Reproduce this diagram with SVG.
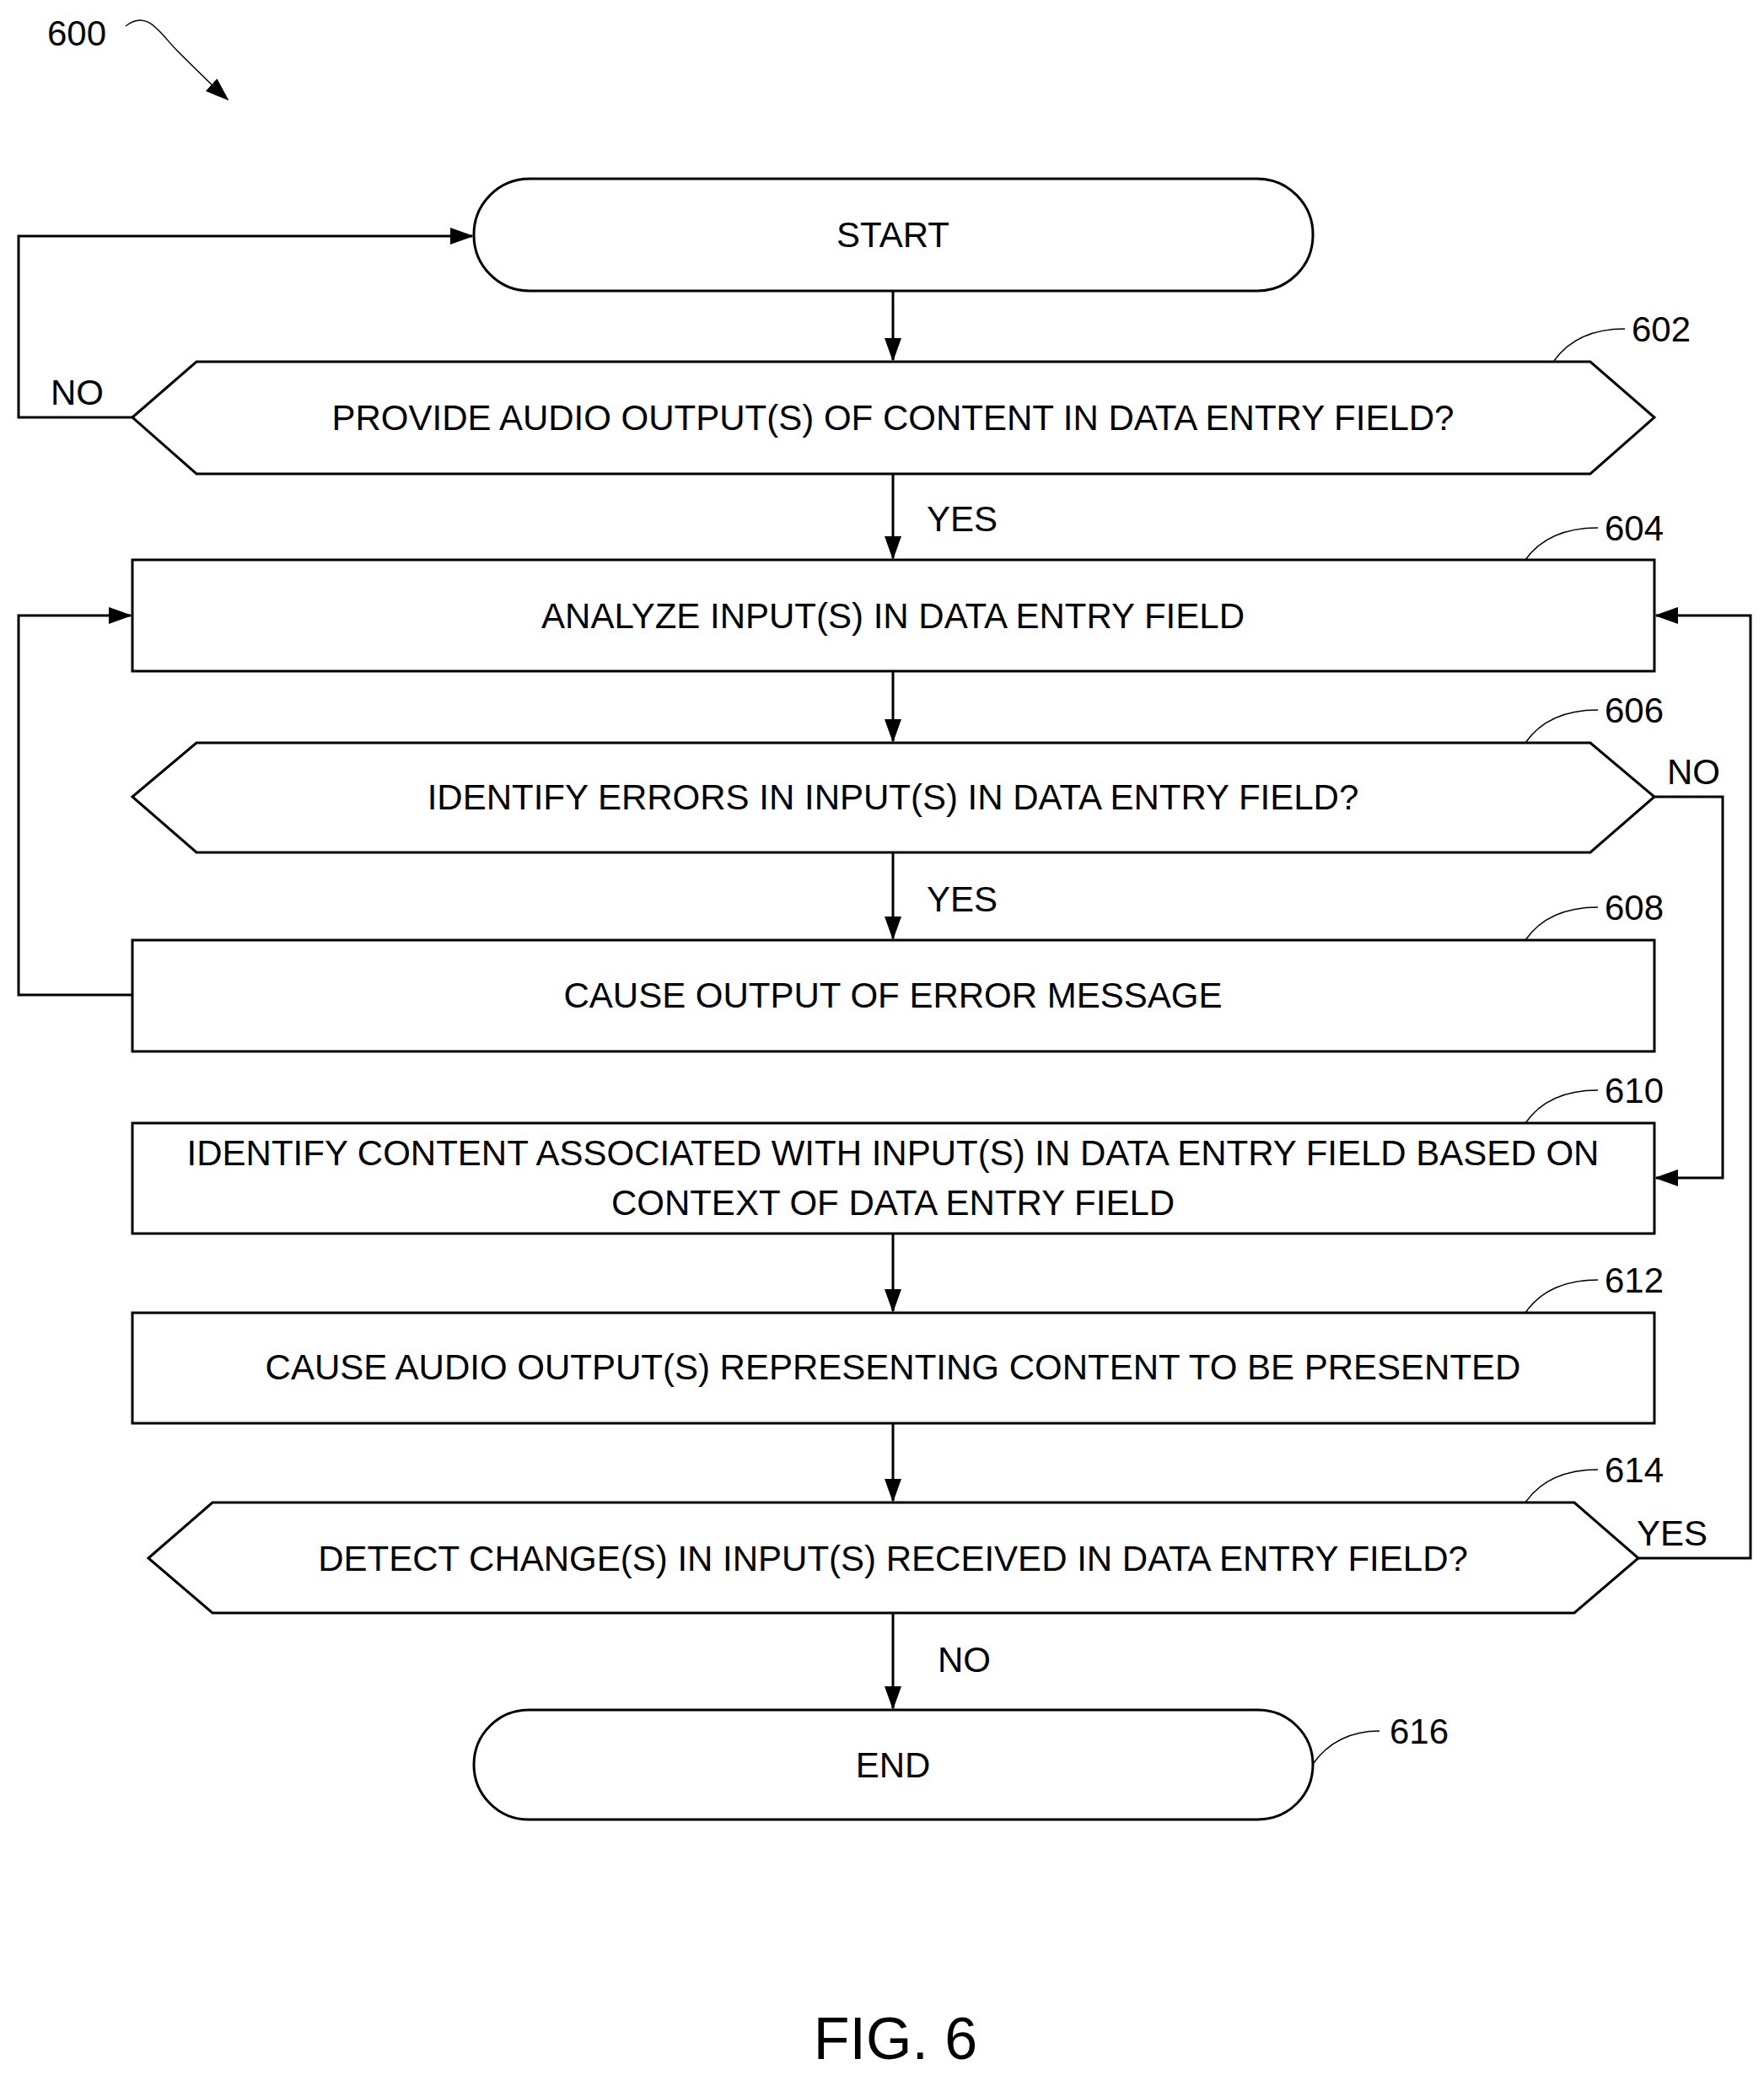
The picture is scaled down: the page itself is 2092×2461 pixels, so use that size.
<svg xmlns="http://www.w3.org/2000/svg" width="2092" height="2461" viewBox="0 0 2092 2461">
<style>
.s{fill:#fff;stroke:#000;stroke-width:3}
.t{font-family:"Liberation Sans",Arial,sans-serif;font-size:42px;text-anchor:middle;dominant-baseline:central}
.l{font-family:"Liberation Sans",Arial,sans-serif;font-size:42px;dominant-baseline:central}
.c{fill:none;stroke:#000;stroke-width:3}
.r{fill:none;stroke:#000;stroke-width:1.5}
</style>
<defs><marker id="a" markerWidth="28" markerHeight="24" refX="26" refY="12" orient="auto" markerUnits="userSpaceOnUse" viewBox="0 0 28 24"><path d="M0,2L28,12L0,22z"/></marker>
<marker id="b" markerWidth="28" markerHeight="28" refX="26" refY="14" orient="auto" markerUnits="userSpaceOnUse" viewBox="0 0 28 28"><path d="M0,4L28,14L0,24z"/></marker></defs>
<rect width="2092" height="2461" fill="#fff"/>
<text class="l" x="56" y="39">600</text>
<path class="r" d="M149,31 C175,10 190,40 210,60 S250,100 270,118" marker-end="url(#b)"/>
<g id="start"><rect class="s" x="562" y="212" width="995" height="133" rx="66"/><text class="t" x="1059" y="278">START</text></g>
<g id="n602"><polygon class="s" points="157,495 233,429 1886,429 1962,495 1886,562 233,562"/><text class="t" x="1059" y="495">PROVIDE AUDIO OUTPUT(S) OF CONTENT IN DATA ENTRY FIELD?</text><path class="r" d="M1843,428 Q1870,390 1927,390"/><text class="l" x="1935" y="390">602</text></g>
<g id="n604"><rect class="s" x="157" y="664" width="1805" height="132"/><text class="t" x="1059" y="730">ANALYZE INPUT(S) IN DATA ENTRY FIELD</text><path class="r" d="M1809,664 Q1836,626 1895,626"/><text class="l" x="1903" y="626">604</text></g>
<g id="n606"><polygon class="s" points="157,945 233,881 1886,881 1962,945 1886,1011 233,1011"/><text class="t" x="1059" y="945">IDENTIFY ERRORS IN INPUT(S) IN DATA ENTRY FIELD?</text><path class="r" d="M1809,881 Q1836,842 1895,842"/><text class="l" x="1903" y="842">606</text></g>
<g id="n608"><rect class="s" x="157" y="1115" width="1805" height="132"/><text class="t" x="1059" y="1180">CAUSE OUTPUT OF ERROR MESSAGE</text><path class="r" d="M1809,1115 Q1836,1076 1895,1076"/><text class="l" x="1903" y="1076">608</text></g>
<g id="n610"><rect class="s" x="157" y="1332" width="1805" height="131"/><text class="t" x="1059" y="1367">IDENTIFY CONTENT ASSOCIATED WITH INPUT(S) IN DATA ENTRY FIELD BASED ON</text><text class="t" x="1059" y="1426">CONTEXT OF DATA ENTRY FIELD</text><path class="r" d="M1809,1332 Q1836,1293 1895,1293"/><text class="l" x="1903" y="1293">610</text></g>
<g id="n612"><rect class="s" x="157" y="1557" width="1805" height="131"/><text class="t" x="1059" y="1621">CAUSE AUDIO OUTPUT(S) REPRESENTING CONTENT TO BE PRESENTED</text><path class="r" d="M1809,1557 Q1836,1518 1895,1518"/><text class="l" x="1903" y="1518">612</text></g>
<g id="n614"><polygon class="s" points="176,1848 252,1782 1867,1782 1943,1848 1867,1913 252,1913"/><text class="t" x="1059" y="1848">DETECT CHANGE(S) IN INPUT(S) RECEIVED IN DATA ENTRY FIELD?</text><path class="r" d="M1809,1782 Q1836,1743 1895,1743"/><text class="l" x="1903" y="1743">614</text></g>
<g id="end"><rect class="s" x="562" y="2028" width="995" height="130" rx="65"/><text class="t" x="1059" y="2093">END</text><path class="r" d="M1557,2092 Q1585,2053 1636,2053"/><text class="l" x="1648" y="2053">616</text></g>
<g id="connectors">
<path class="c" d="M1059,345V427" marker-end="url(#a)"/>
<path class="c" d="M157,495H22V280H560" marker-end="url(#a)"/>
<path class="c" d="M1059,562V662" marker-end="url(#a)"/>
<path class="c" d="M1059,796V879" marker-end="url(#a)"/>
<path class="c" d="M1059,1011V1113" marker-end="url(#a)"/>
<path class="c" d="M157,1180H22V730H155" marker-end="url(#a)"/>
<path class="c" d="M1962,945H2043V1397H1964" marker-end="url(#a)"/>
<path class="c" d="M1059,1463V1555" marker-end="url(#a)"/>
<path class="c" d="M1059,1688V1780" marker-end="url(#a)"/>
<path class="c" d="M1943,1848H2076V730H1964" marker-end="url(#a)"/>
<path class="c" d="M1059,1913V2026" marker-end="url(#a)"/>
<text class="l" x="60" y="465">NO</text>
<text class="l" x="1099" y="615">YES</text>
<text class="l" x="1099" y="1066">YES</text>
<text class="l" x="1977" y="915">NO</text>
<text class="l" x="1941" y="1818">YES</text>
<text class="l" x="1112" y="1968">NO</text>
</g>
<text class="t" x="1062" y="2418" style="font-size:70px">FIG. 6</text>
</svg>
